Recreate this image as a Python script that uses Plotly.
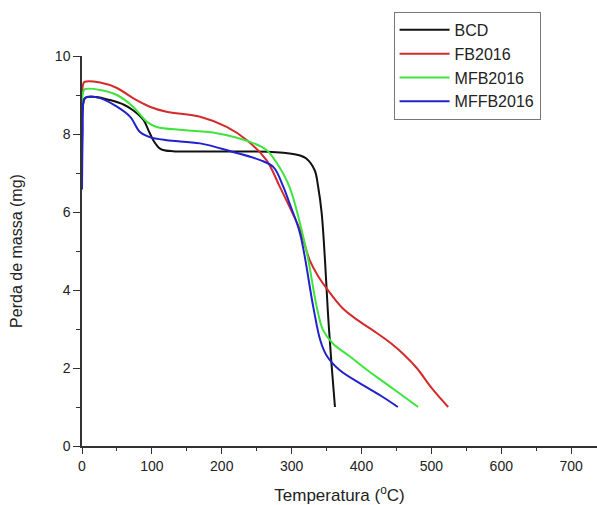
import plotly.graph_objects as go

# BCD
bcd_t = [0, 2, 5, 20, 40, 60, 73, 88, 95, 102, 110, 116, 130, 160, 200, 250, 297, 312, 321, 333, 338, 343, 348, 352, 357, 362]
bcd_m = [6.9, 8.8, 8.93, 8.95, 8.87, 8.75, 8.61, 8.36, 8.1, 7.84, 7.65, 7.59, 7.56, 7.55, 7.55, 7.55, 7.5, 7.45, 7.37, 7.07, 6.64, 5.97, 4.68, 3.4, 2.12, 1.0]
# FB2016
fb_t = [0, 2, 4, 26, 50, 73, 97, 121, 169, 207, 236, 264, 283, 297, 312, 326, 338, 350, 373, 395, 420, 443, 462, 479, 502, 524]
fb_m = [9.0, 9.3, 9.34, 9.32, 9.18, 8.92, 8.7, 8.57, 8.44, 8.18, 7.84, 7.33, 6.65, 6.13, 5.54, 4.76, 4.35, 4.04, 3.53, 3.22, 2.92, 2.62, 2.32, 2.0, 1.45, 1.0]
# MFB2016
mfb_t = [0, 2, 4, 26, 50, 73, 93, 107, 145, 193, 240, 264, 279, 297, 321, 336, 345, 359, 383, 407, 431, 455, 481]
mfb_m = [8.8, 9.1, 9.15, 9.13, 9.0, 8.7, 8.31, 8.18, 8.1, 8.02, 7.8, 7.59, 7.25, 6.64, 5.02, 3.56, 2.97, 2.63, 2.3, 1.96, 1.65, 1.34, 1.0]
# MFFB2016
mffb_t = [0, 1, 3, 7, 26, 50, 69, 83, 97, 121, 169, 216, 255, 274, 288, 297, 312, 331, 341, 350, 369, 407, 431, 452]
mffb_m = [6.58, 8.0, 8.9, 8.95, 8.92, 8.7, 8.44, 8.05, 7.92, 7.84, 7.76, 7.54, 7.33, 7.15, 6.65, 6.22, 5.45, 3.56, 2.71, 2.32, 1.94, 1.51, 1.25, 1.0]

names = ["BCD", "FB2016", "MFB2016", "MFFB2016"]
colors = ["#111111", "#d42a2a", "#3ee43e", "#2222cc"]
series = [(bcd_t, bcd_m), (fb_t, fb_m), (mfb_t, mfb_m), (mffb_t, mffb_m)]

x_ticks = [0, 100, 200, 300, 400, 500, 600, 700]
y_ticks = [0, 2, 4, 6, 8, 10]

fig = go.Figure()
for (t, m), n, c in zip(series, names, colors):
    fig.add_trace(go.Scatter(x=t, y=m, name=n, mode="lines",
                             line=dict(color=c, width=2, shape="spline", smoothing=1.0)))

axis_common = dict(showgrid=False, zeroline=False, showline=True, linecolor="#333333",
                   linewidth=1.5, ticks="outside", tickcolor="#333333", tickwidth=1.2,
                   tickfont=dict(family="Liberation Sans, Arial", size=14, color="#222222"))

fig.update_xaxes(range=[0, 737], tickvals=x_ticks, ticklen=6,
                 minor=dict(dtick=50, ticks="outside", ticklen=3, tickcolor="#333333", tickwidth=1.2),
                 title=dict(text="Temperatura (<sup>o</sup>C)", standoff=23,
                            font=dict(family="Liberation Sans, Arial", size=17, color="#222222")),
                 **axis_common)
fig.update_yaxes(range=[0, 10], tickvals=y_ticks, ticklen=7,
                 minor=dict(dtick=1, ticks="outside", ticklen=4, tickcolor="#333333", tickwidth=1.2),
                 title=dict(text="Perda de massa (mg)", standoff=28,
                            font=dict(family="Liberation Sans, Arial", size=16, color="#222222")),
                 **axis_common)

fig.update_layout(
    width=597, height=505,
    margin=dict(l=82, r=0, t=56, b=59, autoexpand=False),
    plot_bgcolor="white", paper_bgcolor="white",
    legend=dict(x=0.605, y=1.113, xanchor="left", yanchor="top",
                bordercolor="#777777", borderwidth=1, bgcolor="white",
                font=dict(family="Liberation Sans, Arial", size=16, color="#222222"),
                tracegroupgap=0, itemwidth=50),
    showlegend=True,
)
fig.update_xaxes(automargin=False)
fig.update_yaxes(automargin=False)

fig.write_html("out.html")
